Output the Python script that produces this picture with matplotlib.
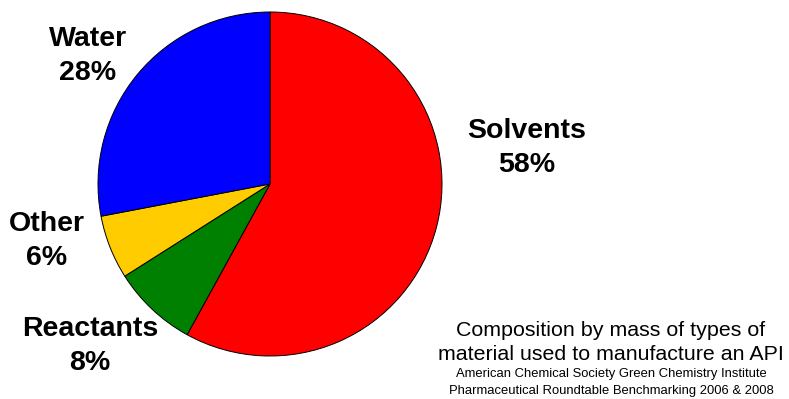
import matplotlib
matplotlib.use('Agg')
from matplotlib import pyplot as plt

labels = ['Solvents', 'Reactants', 'Other', 'Water']
shares = [58, 8, 6, 28]
colors = ['#FF0000', '#008000', '#FFCC00', '#0000FF']
caption = ['Composition by mass of types of', 'material used to manufacture an API']
source = ['American Chemical Society Green Chemistry Institute',
          'Pharmaceutical Roundtable Benchmarking 2006 & 2008']

plt.rcParams['font.family'] = ['Liberation Sans', 'DejaVu Sans']

H = 399  # figure height in px, used to flip y

fig = plt.figure(figsize=(7.89, 3.99), dpi=100)
ax = fig.add_axes([0, 0, 1, 1])
ax.pie(shares, colors=colors, startangle=90, counterclock=False,
       center=(270, H - 184), radius=172,
       wedgeprops={'edgecolor': 'black', 'linewidth': 0.7})
ax.set_xlim(0, 789)
ax.set_ylim(0, H)
ax.set_aspect('equal')
ax.axis('off')

label_pos = [(527, H - 148), (90, H - 346), (47, H - 241), (88, H - 56)]
for name, val, (x, y) in zip(labels, shares, label_pos):
    ax.text(x, y, f'{name}\n{val}%', ha='center', va='center', fontsize=20.5,
            fontweight='bold', linespacing=1.4)

ax.text(611, H - 330, caption[0], ha='center', va='center', fontsize=15.4)
ax.text(611, H - 355, caption[1], ha='center', va='center', fontsize=15.4)
ax.text(611, H - 374, source[0], ha='center', va='center', fontsize=9.4)
ax.text(611, H - 391, source[1], ha='center', va='center', fontsize=9.4)

fig.savefig('out.png', dpi=100)
